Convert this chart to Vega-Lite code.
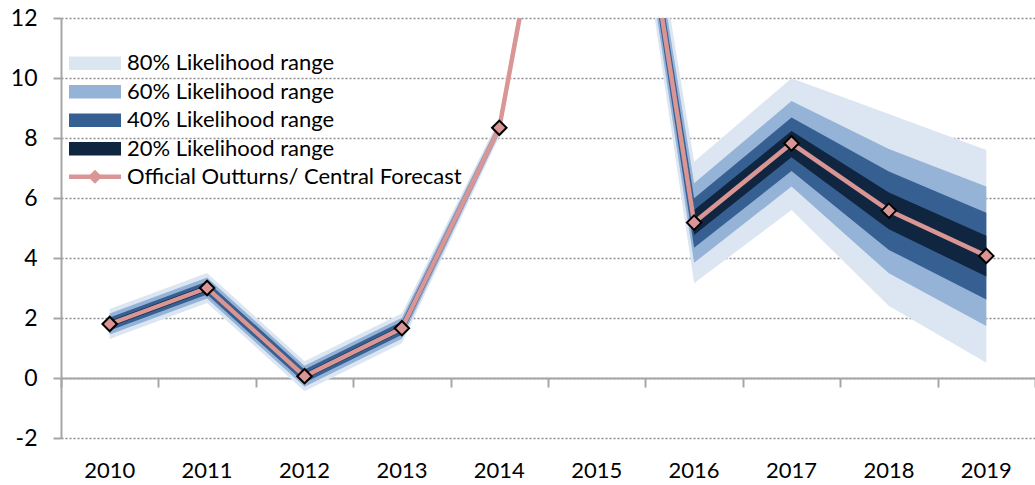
{
  "$schema": "https://vega.github.io/schema/vega-lite/v6.json",
  "autosize": {"type": "none"},
  "width": 974,
  "height": 420,
  "padding": {"left": 61, "top": 18, "right": 0, "bottom": 47},
  "background": "white",
  "config": {
    "view": {"stroke": null},
    "font": "Lato",
    "legend": {"padding": 0, "labelFont": "Lato", "labelFontSize": 22, "labelColor": "#000000", "labelLimit": 600}
  },
  "datasets": {
    "fan": [
      {"year": "2010", "band": "80% Likelihood range", "lo": 1.3, "hi": 2.3},
      {"year": "2011", "band": "80% Likelihood range", "lo": 2.5, "hi": 3.5},
      {"year": "2012", "band": "80% Likelihood range", "lo": -0.44, "hi": 0.56},
      {"year": "2013", "band": "80% Likelihood range", "lo": 1.16, "hi": 2.16},
      {"year": "2014", "band": "80% Likelihood range", "lo": 8.04, "hi": 8.64},
      {"year": "2015", "band": "80% Likelihood range", "lo": 25.0, "hi": 27.0},
      {"year": "2016", "band": "80% Likelihood range", "lo": 3.16, "hi": 7.21},
      {"year": "2017", "band": "80% Likelihood range", "lo": 5.6, "hi": 9.99},
      {"year": "2018", "band": "80% Likelihood range", "lo": 2.4, "hi": 8.8},
      {"year": "2019", "band": "80% Likelihood range", "lo": 0.51, "hi": 7.6},
      {"year": "2010", "band": "60% Likelihood range", "lo": 1.45, "hi": 2.15},
      {"year": "2011", "band": "60% Likelihood range", "lo": 2.65, "hi": 3.35},
      {"year": "2012", "band": "60% Likelihood range", "lo": -0.29, "hi": 0.41},
      {"year": "2013", "band": "60% Likelihood range", "lo": 1.31, "hi": 2.01},
      {"year": "2014", "band": "60% Likelihood range", "lo": 8.14, "hi": 8.54},
      {"year": "2015", "band": "60% Likelihood range", "lo": 25.3, "hi": 26.7},
      {"year": "2016", "band": "60% Likelihood range", "lo": 3.84, "hi": 6.49},
      {"year": "2017", "band": "60% Likelihood range", "lo": 6.38, "hi": 9.23},
      {"year": "2018", "band": "60% Likelihood range", "lo": 3.49, "hi": 7.63},
      {"year": "2019", "band": "60% Likelihood range", "lo": 1.73, "hi": 6.38},
      {"year": "2010", "band": "40% Likelihood range", "lo": 1.58, "hi": 2.02},
      {"year": "2011", "band": "40% Likelihood range", "lo": 2.78, "hi": 3.22},
      {"year": "2012", "band": "40% Likelihood range", "lo": -0.16, "hi": 0.28},
      {"year": "2013", "band": "40% Likelihood range", "lo": 1.44, "hi": 1.88},
      {"year": "2014", "band": "40% Likelihood range", "lo": 8.2, "hi": 8.48},
      {"year": "2015", "band": "40% Likelihood range", "lo": 25.55, "hi": 26.45},
      {"year": "2016", "band": "40% Likelihood range", "lo": 4.34, "hi": 5.99},
      {"year": "2017", "band": "40% Likelihood range", "lo": 6.9, "hi": 8.68},
      {"year": "2018", "band": "40% Likelihood range", "lo": 4.27, "hi": 6.88},
      {"year": "2019", "band": "40% Likelihood range", "lo": 2.62, "hi": 5.51},
      {"year": "2010", "band": "20% Likelihood range", "lo": 1.7, "hi": 1.9},
      {"year": "2011", "band": "20% Likelihood range", "lo": 2.9, "hi": 3.1},
      {"year": "2012", "band": "20% Likelihood range", "lo": -0.04, "hi": 0.16},
      {"year": "2013", "band": "20% Likelihood range", "lo": 1.56, "hi": 1.76},
      {"year": "2014", "band": "20% Likelihood range", "lo": 8.27, "hi": 8.41},
      {"year": "2015", "band": "20% Likelihood range", "lo": 25.8, "hi": 26.2},
      {"year": "2016", "band": "20% Likelihood range", "lo": 4.77, "hi": 5.6},
      {"year": "2017", "band": "20% Likelihood range", "lo": 7.36, "hi": 8.23},
      {"year": "2018", "band": "20% Likelihood range", "lo": 4.96, "hi": 6.18},
      {"year": "2019", "band": "20% Likelihood range", "lo": 3.38, "hi": 4.74}
    ],
    "central": [
      {"year": "2010", "value": 1.8, "series": "Official Outturns/ Central Forecast"},
      {"year": "2011", "value": 3.0, "series": "Official Outturns/ Central Forecast"},
      {"year": "2012", "value": 0.06, "series": "Official Outturns/ Central Forecast"},
      {"year": "2013", "value": 1.66, "series": "Official Outturns/ Central Forecast"},
      {"year": "2014", "value": 8.34, "series": "Official Outturns/ Central Forecast"},
      {"year": "2015", "value": 26.0, "series": "Official Outturns/ Central Forecast"},
      {"year": "2016", "value": 5.18, "series": "Official Outturns/ Central Forecast"},
      {"year": "2017", "value": 7.82, "series": "Official Outturns/ Central Forecast"},
      {"year": "2018", "value": 5.58, "series": "Official Outturns/ Central Forecast"},
      {"year": "2019", "value": 4.07, "series": "Official Outturns/ Central Forecast"}
    ]
  },
  "layer": [
    {
      "data": {"name": "fan"},
      "mark": {"type": "area", "clip": true},
      "encoding": {
        "x": {
          "field": "year", "type": "ordinal",
          "scale": {"type": "band", "paddingInner": 0, "paddingOuter": 0},
          "axis": {
            "orient": "bottom", "title": null, "domain": false, "ticks": false, "grid": false,
            "labelAngle": 0, "labelFont": "Lato", "labelFontSize": 22, "labelColor": "#000000", "labelPadding": 22
          }
        },
        "y": {
          "field": "lo", "type": "quantitative",
          "scale": {"domain": [-2, 12], "nice": false, "zero": false},
          "axis": {
            "title": null, "values": [-2, 0, 2, 4, 6, 8, 10, 12],
            "labelExpr": "datum.value < 0 ? '-' + abs(datum.value) : '' + datum.value",
            "grid": true, "gridDash": [2, 2], "gridColor": "#8c8c8c", "gridWidth": 1.3,
            "domainColor": "#a6a6a6", "domainWidth": 2,
            "tickColor": "#a6a6a6", "tickWidth": 2, "tickSize": 8,
            "labelFont": "Lato", "labelFontSize": 23, "labelColor": "#000000", "labelPadding": 16
          }
        },
        "y2": {"field": "hi"},
        "fill": {
          "field": "band", "type": "nominal",
          "scale": {
            "domain": ["80% Likelihood range", "60% Likelihood range", "40% Likelihood range", "20% Likelihood range"],
            "range": ["#DCE6F2", "#95B3D7", "#376092", "#10253F"]
          },
          "legend": {
            "orient": "none", "legendX": 23, "legendY": 34.3, "title": null,
            "symbolType": "M-4,-1.04H4V1.04H-4Z", "symbolSize": 169, "symbolStrokeWidth": 0,
            "rowPadding": 6.5, "labelOffset": 21
          }
        }
      }
    },
    {
      "data": {"name": "central"},
      "mark": {"type": "line", "clip": true, "strokeWidth": 4.5},
      "encoding": {
        "x": {
          "field": "year", "type": "ordinal",
          "axis": {
            "orient": "bottom", "offset": -60, "title": null, "labels": false, "grid": false,
            "domainColor": "#a6a6a6", "domainWidth": 2,
            "tickColor": "#a6a6a6", "tickWidth": 2, "tickSize": 9, "tickBand": "extent"
          }
        },
        "y": {"field": "value", "type": "quantitative"},
        "stroke": {
          "field": "series", "type": "nominal",
          "scale": {"range": ["#D99694"]},
          "legend": {
            "orient": "none", "legendX": 23, "legendY": 147.7, "title": null,
            "symbolType": "M-4,0H4", "symbolSize": 169, "symbolStrokeWidth": 4.5,
            "symbolFillColor": "transparent", "labelOffset": 21
          }
        }
      }
    },
    {
      "data": {"name": "central"},
      "mark": {"type": "point", "clip": true, "filled": true, "fill": "#D99694", "stroke": "#000000", "strokeWidth": 2, "size": 210, "opacity": 1},
      "encoding": {
        "x": {"field": "year", "type": "ordinal", "axis": null},
        "y": {"field": "value", "type": "quantitative"},
        "shape": {
          "datum": "marker",
          "scale": {"domain": ["marker"], "range": ["diamond"]},
          "legend": {
            "orient": "none", "legendX": 23, "legendY": 147.7, "title": null, "zindex": 5,
            "symbolFillColor": "#D99694", "symbolStrokeColor": "#000000",
            "symbolStrokeWidth": 2, "labelExpr": "''",
            "symbolSize": 200, "symbolOpacity": 1,
            "encode": {"symbols": {"size": {"value": 200}, "fill": {"value": "#D99694"}, "stroke": {"value": "#000000"}, "strokeWidth": {"value": 2}, "opacity": {"value": 1}}}
          }
        }
      }
    }
  ],
  "resolve": {"axis": {"x": "independent"}}
}
